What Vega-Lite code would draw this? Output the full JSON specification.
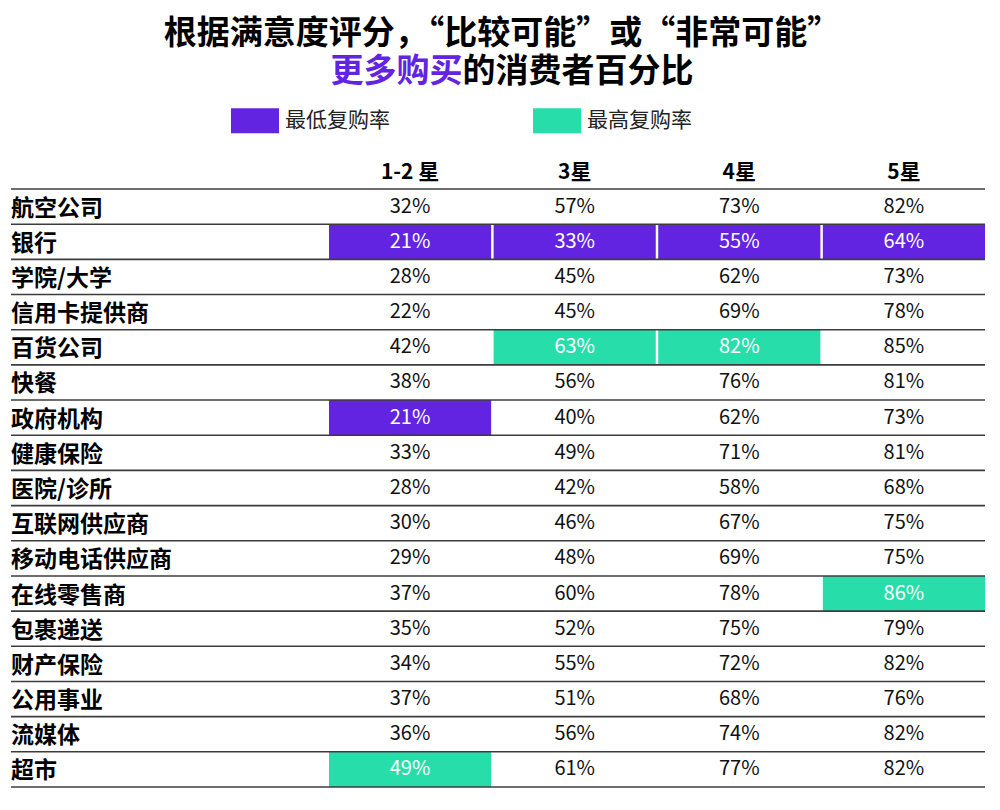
{
  "$schema": "https://vega.github.io/schema/vega-lite/v6.json",
  "background": "white",
  "padding": {"left": 10, "top": 17, "right": 16, "bottom": 10},
  "bounds": "flush",
  "title": {
    "text": "根据满意度评分，“比较可能”或“非常可能”",
    "anchor": "start",
    "align": "center",
    "dx": 491,
    "frame": "group",
    "font": "Noto Sans CJK SC",
    "fontSize": 33,
    "fontWeight": "bold",
    "color": "#000000",
    "offset": 5
  },
  "datasets": {
    "t": [
      {"org": "航空公司", "col": "1-2 星", "v": 0.32, "hl": null},
      {"org": "航空公司", "col": "3星", "v": 0.57, "hl": null},
      {"org": "航空公司", "col": "4星", "v": 0.73, "hl": null},
      {"org": "航空公司", "col": "5星", "v": 0.82, "hl": null},
      {"org": "银行", "col": "1-2 星", "v": 0.21, "hl": "最低复购率"},
      {"org": "银行", "col": "3星", "v": 0.33, "hl": "最低复购率"},
      {"org": "银行", "col": "4星", "v": 0.55, "hl": "最低复购率"},
      {"org": "银行", "col": "5星", "v": 0.64, "hl": "最低复购率"},
      {"org": "学院/大学", "col": "1-2 星", "v": 0.28, "hl": null},
      {"org": "学院/大学", "col": "3星", "v": 0.45, "hl": null},
      {"org": "学院/大学", "col": "4星", "v": 0.62, "hl": null},
      {"org": "学院/大学", "col": "5星", "v": 0.73, "hl": null},
      {"org": "信用卡提供商", "col": "1-2 星", "v": 0.22, "hl": null},
      {"org": "信用卡提供商", "col": "3星", "v": 0.45, "hl": null},
      {"org": "信用卡提供商", "col": "4星", "v": 0.69, "hl": null},
      {"org": "信用卡提供商", "col": "5星", "v": 0.78, "hl": null},
      {"org": "百货公司", "col": "1-2 星", "v": 0.42, "hl": null},
      {"org": "百货公司", "col": "3星", "v": 0.63, "hl": "最高复购率"},
      {"org": "百货公司", "col": "4星", "v": 0.82, "hl": "最高复购率"},
      {"org": "百货公司", "col": "5星", "v": 0.85, "hl": null},
      {"org": "快餐", "col": "1-2 星", "v": 0.38, "hl": null},
      {"org": "快餐", "col": "3星", "v": 0.56, "hl": null},
      {"org": "快餐", "col": "4星", "v": 0.76, "hl": null},
      {"org": "快餐", "col": "5星", "v": 0.81, "hl": null},
      {"org": "政府机构", "col": "1-2 星", "v": 0.21, "hl": "最低复购率"},
      {"org": "政府机构", "col": "3星", "v": 0.40, "hl": null},
      {"org": "政府机构", "col": "4星", "v": 0.62, "hl": null},
      {"org": "政府机构", "col": "5星", "v": 0.73, "hl": null},
      {"org": "健康保险", "col": "1-2 星", "v": 0.33, "hl": null},
      {"org": "健康保险", "col": "3星", "v": 0.49, "hl": null},
      {"org": "健康保险", "col": "4星", "v": 0.71, "hl": null},
      {"org": "健康保险", "col": "5星", "v": 0.81, "hl": null},
      {"org": "医院/诊所", "col": "1-2 星", "v": 0.28, "hl": null},
      {"org": "医院/诊所", "col": "3星", "v": 0.42, "hl": null},
      {"org": "医院/诊所", "col": "4星", "v": 0.58, "hl": null},
      {"org": "医院/诊所", "col": "5星", "v": 0.68, "hl": null},
      {"org": "互联网供应商", "col": "1-2 星", "v": 0.30, "hl": null},
      {"org": "互联网供应商", "col": "3星", "v": 0.46, "hl": null},
      {"org": "互联网供应商", "col": "4星", "v": 0.67, "hl": null},
      {"org": "互联网供应商", "col": "5星", "v": 0.75, "hl": null},
      {"org": "移动电话供应商", "col": "1-2 星", "v": 0.29, "hl": null},
      {"org": "移动电话供应商", "col": "3星", "v": 0.48, "hl": null},
      {"org": "移动电话供应商", "col": "4星", "v": 0.69, "hl": null},
      {"org": "移动电话供应商", "col": "5星", "v": 0.75, "hl": null},
      {"org": "在线零售商", "col": "1-2 星", "v": 0.37, "hl": null},
      {"org": "在线零售商", "col": "3星", "v": 0.60, "hl": null},
      {"org": "在线零售商", "col": "4星", "v": 0.78, "hl": null},
      {"org": "在线零售商", "col": "5星", "v": 0.86, "hl": "最高复购率"},
      {"org": "包裹递送", "col": "1-2 星", "v": 0.35, "hl": null},
      {"org": "包裹递送", "col": "3星", "v": 0.52, "hl": null},
      {"org": "包裹递送", "col": "4星", "v": 0.75, "hl": null},
      {"org": "包裹递送", "col": "5星", "v": 0.79, "hl": null},
      {"org": "财产保险", "col": "1-2 星", "v": 0.34, "hl": null},
      {"org": "财产保险", "col": "3星", "v": 0.55, "hl": null},
      {"org": "财产保险", "col": "4星", "v": 0.72, "hl": null},
      {"org": "财产保险", "col": "5星", "v": 0.82, "hl": null},
      {"org": "公用事业", "col": "1-2 星", "v": 0.37, "hl": null},
      {"org": "公用事业", "col": "3星", "v": 0.51, "hl": null},
      {"org": "公用事业", "col": "4星", "v": 0.68, "hl": null},
      {"org": "公用事业", "col": "5星", "v": 0.76, "hl": null},
      {"org": "流媒体", "col": "1-2 星", "v": 0.36, "hl": null},
      {"org": "流媒体", "col": "3星", "v": 0.56, "hl": null},
      {"org": "流媒体", "col": "4星", "v": 0.74, "hl": null},
      {"org": "流媒体", "col": "5星", "v": 0.82, "hl": null},
      {"org": "超市", "col": "1-2 星", "v": 0.49, "hl": "最高复购率"},
      {"org": "超市", "col": "3星", "v": 0.61, "hl": null},
      {"org": "超市", "col": "4星", "v": 0.77, "hl": null},
      {"org": "超市", "col": "5星", "v": 0.82, "hl": null}
    ]
  },
  "spacing": 0,
  "hconcat": [
    {
      "width": 318,
      "height": 598,
      "data": {"name": "t"},
      "transform": [{"filter": "datum.col === '1-2 星'"}],
      "layer": [
        {
          "mark": {"type": "text", "align": "left", "baseline": "middle", "font": "Noto Sans CJK SC", "fontSize": 23, "fontWeight": "bold", "color": "#000000", "dy": 2},
          "encoding": {
            "x": {"datum": 0, "type": "quantitative", "scale": {"domain": [0, 1]}, "axis": {"orient": "top", "labels": false, "ticks": false, "domain": false, "grid": false, "title": "更多购买", "titleX": 451, "titleY": -107.5, "titleAlign": "right", "titleBaseline": "alphabetic", "titleAngle": 0, "titleFont": "Noto Sans CJK SC", "titleFontSize": 33, "titleFontWeight": "bold", "titleColor": "#6224E0"}},
            "y": {"field": "org", "type": "nominal", "axis": null, "scale": {"domain": ["航空公司", "银行", "学院/大学", "信用卡提供商", "百货公司", "快餐", "政府机构", "健康保险", "医院/诊所", "互联网供应商", "移动电话供应商", "在线零售商", "包裹递送", "财产保险", "公用事业", "流媒体", "超市"], "paddingInner": 0, "paddingOuter": 0}},
            "text": {"field": "org", "type": "nominal"}
          }
        },
        {
          "mark": {"type": "rule", "color": "#3c3c3c", "strokeWidth": 1.6},
          "encoding": {
            "y": {"field": "org", "type": "nominal", "bandPosition": 0}
          }
        },
        {
          "transform": [{"filter": "datum.org === '超市'"}],
          "mark": {"type": "rule", "color": "#3c3c3c", "strokeWidth": 1.6},
          "encoding": {
            "y": {"field": "org", "type": "nominal", "bandPosition": 1}
          }
        }
      ]
    },
    {
      "width": 656,
      "height": 598,
      "data": {"name": "t"},
      "encoding": {
        "y": {"field": "org", "type": "nominal", "axis": null, "scale": {"domain": ["航空公司", "银行", "学院/大学", "信用卡提供商", "百货公司", "快餐", "政府机构", "健康保险", "医院/诊所", "互联网供应商", "移动电话供应商", "在线零售商", "包裹递送", "财产保险", "公用事业", "流媒体", "超市"], "paddingInner": 0, "paddingOuter": 0}}
      },
      "layer": [
        {
          "transform": [{"filter": "isValid(datum.hl)"}],
          "mark": {"type": "rect"},
          "encoding": {
            "x": {"field": "col", "type": "nominal", "scale": {"domain": ["1-2 星", "3星", "4星", "5星"], "paddingInner": 0.015, "paddingOuter": 0}, "axis": {"orient": "top", "title": "的消费者百分比", "titleX": 133, "titleY": -107.5, "titleAlign": "left", "titleBaseline": "alphabetic", "titleAngle": 0, "titleFont": "Noto Sans CJK SC", "titleFontSize": 33, "titleFontWeight": "bold", "titleColor": "#000000", "domain": false, "ticks": false, "tickSize": 0, "labelAngle": 0, "labelFont": "Noto Sans CJK SC", "labelFontSize": 21, "labelFontWeight": "bold", "labelColor": "#000000", "labelBaseline": "middle", "labelPadding": 17}},
            "color": {
              "field": "hl",
              "type": "nominal",
              "scale": {"domain": ["最低复购率", "最高复购率"], "range": ["#6224E0", "#27DEAB"]},
              "legend": {
                "orient": "none",
                "legendX": 220,
                "legendY": -92.5,
                "direction": "horizontal",
                "title": null,
                "padding": 0,
                "symbolType": "M-1,-0.52H1V0.52H-1Z",
                "symbolSize": 2304,
                "symbolStrokeWidth": 0,
                "symbolOpacity": 1,
                "labelFont": "Noto Sans CJK SC",
                "labelFontSize": 21,
                "labelColor": "#222222",
                "labelOffset": 6,
                "columnPadding": 143
              }
            }
          }
        },
        {
          "mark": {"type": "text", "align": "center", "baseline": "middle", "font": "Noto Sans CJK SC", "fontSize": 20},
          "encoding": {
            "x": {"field": "col", "type": "nominal", "scale": {"domain": ["1-2 星", "3星", "4星", "5星"], "paddingInner": 0.015, "paddingOuter": 0}, "axis": {"orient": "top", "title": "的消费者百分比", "titleX": 133, "titleY": -107.5, "titleAlign": "left", "titleBaseline": "alphabetic", "titleAngle": 0, "titleFont": "Noto Sans CJK SC", "titleFontSize": 33, "titleFontWeight": "bold", "titleColor": "#000000", "domain": false, "ticks": false, "tickSize": 0, "labelAngle": 0, "labelFont": "Noto Sans CJK SC", "labelFontSize": 21, "labelFontWeight": "bold", "labelColor": "#000000", "labelBaseline": "middle", "labelPadding": 17}},
            "text": {"field": "v", "type": "quantitative", "format": ".0%"},
            "color": {"condition": {"test": "isValid(datum.hl)", "value": "#ffffff"}, "value": "#111111"}
          }
        },
        {
          "transform": [{"filter": "datum.col === '1-2 星'"}],
          "mark": {"type": "rule", "color": "#3c3c3c", "strokeWidth": 1.6},
          "encoding": {
            "y": {"field": "org", "type": "nominal", "bandPosition": 0}
          }
        },
        {
          "transform": [{"filter": "datum.org === '超市' && datum.col === '1-2 星'"}],
          "mark": {"type": "rule", "color": "#3c3c3c", "strokeWidth": 1.6},
          "encoding": {
            "y": {"field": "org", "type": "nominal", "bandPosition": 1}
          }
        }
      ]
    }
  ],
  "config": {
    "view": {"stroke": null},
    "font": "Noto Sans CJK SC"
  }
}
